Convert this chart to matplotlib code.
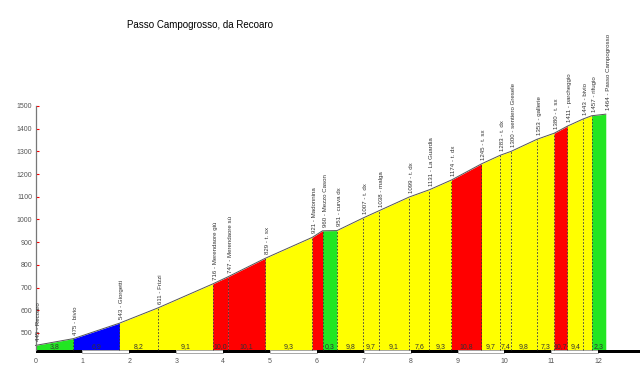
import numpy as np
import matplotlib
matplotlib.use('Agg')
from matplotlib import pyplot as plt
from matplotlib.patches import Rectangle

plt.rcParams['font.family'] = ['Liberation Sans', 'DejaVu Sans']

# punti del profilo: km, quota, nome
km = [0, 0.81, 1.79, 2.62, 3.78, 4.10, 4.90, 5.90, 6.12, 6.43, 6.99, 7.32,
      7.97, 8.40, 8.87, 9.51, 9.91, 10.14, 10.69, 11.06, 11.34, 11.68, 11.86, 12.16]
quota = [445, 475, 543, 611, 716, 747, 829, 921, 950, 951, 1007, 1038,
         1099, 1131, 1174, 1245, 1283, 1300, 1353, 1380, 1411, 1443, 1457, 1464]
nomi = ["445 - Recoaro", "475 - bivio", "543 - Giorgetti", "611 - Frizzi",
        "716 - Merendaore giù", "747 - Merendaore sù", "829 - t. sx",
        "921 - Madonnina", "960 - Mezzo Cason", "951 - curva dx", "1007 - t. dx",
        "1038 - malga", "1099 - t. dx", "1131 - La Guardia", "1174 - t. dx",
        "1245 - t. sx", "1283 - t. dx", "1300 - sentiero Gresele", "1353 - gallerie",
        "1380 - t. sx", "1411 - parcheggio", "1443 - bivio", "1457 - rifugio",
        "1464 - Passo Campogrosso"]

# pendenza di ogni tratto (testo) e colore
pendenze = ["3,8", "6,9", "8,2", "9,1", "10,0", "10,1", "9,3", "", "0,3", "9,8",
            "9,7", "9,1", "7,6", "9,3", "10,8", "9,7", "7,4", "9,8", "7,3", "10,7",
            "9,4", "", "2,3"]
G, B, Y, R = '#22e622', '#0000ff', '#ffff00', '#ff0000'
colori = [G, B, Y, Y, R, R, Y, R, G, Y, Y, Y, Y, Y, R, Y, Y, Y, Y, R, Y, Y, G]

y_ticks = [500, 600, 700, 800, 900, 1000, 1100, 1200, 1300, 1400, 1500]
km_ticks = list(range(13))

base = 425

fig = plt.figure(figsize=(6.4, 3.79), dpi=100)
ax = fig.add_axes([0, 0, 1, 1])
ax.set_xlim(-0.757, 12.89)
ax.set_ylim(297, 1967)

for i in range(len(km) - 1):
    x0, x1 = km[i], km[i + 1]
    ax.fill_between([x0, x1], [quota[i], quota[i + 1]], base, color=colori[i], lw=0)
    if pendenze[i]:
        ax.text((x0 + x1) / 2, 438, pendenze[i], fontsize=5, color='#333333',
                ha='center', va='center')

# linee tratteggiate
for x, q in zip(km[1:-1], quota[1:-1]):
    ax.plot([x, x], [base, q], color='#333333', lw=0.6, ls=(0, (2, 2)))

ax.plot(km, quota, color='#555555', lw=0.7)

# nomi ruotati
for x, q, t in zip(km, quota, nomi):
    ax.text(x, q + 18, t, rotation=90, fontsize=4.4, color='#333333',
            ha='left', va='bottom')

# barra chilometrica
for k in range(12):
    if k % 2 == 0:
        ax.add_patch(Rectangle((k, base - 14), 1, 14, color='black', lw=0))
    else:
        ax.add_patch(Rectangle((k, base - 12), 1, 10, facecolor='white',
                               edgecolor='#999999', lw=0.6))
ax.add_patch(Rectangle((12, base - 14), 1.0, 14, color='black', lw=0))

for k in km_ticks:
    ax.text(k, 372, str(k), fontsize=5, color='#555555', ha='center', va='center')

# asse y
for s in ['top', 'right', 'bottom']:
    ax.spines[s].set_visible(False)
ax.spines['left'].set_position(('data', 0))
ax.spines['left'].set_bounds(base, 1500)
ax.spines['left'].set_color('#777777')
ax.spines['left'].set_linewidth(0.9)
ax.set_xticks([])
ax.set_yticks(y_ticks)
ax.tick_params(axis='y', direction='in', length=2, color='red', labelsize=5,
               labelcolor='#555555', pad=2.5)
ax.set_facecolor('white')

ax.text(200 / 640 * 13.647 - 0.757, 1967 - 25 * 4.405, "Passo Campogrosso, da Recoaro",
        fontsize=7, color='black', ha='center', va='center')

fig.savefig('out.png', dpi=100)
